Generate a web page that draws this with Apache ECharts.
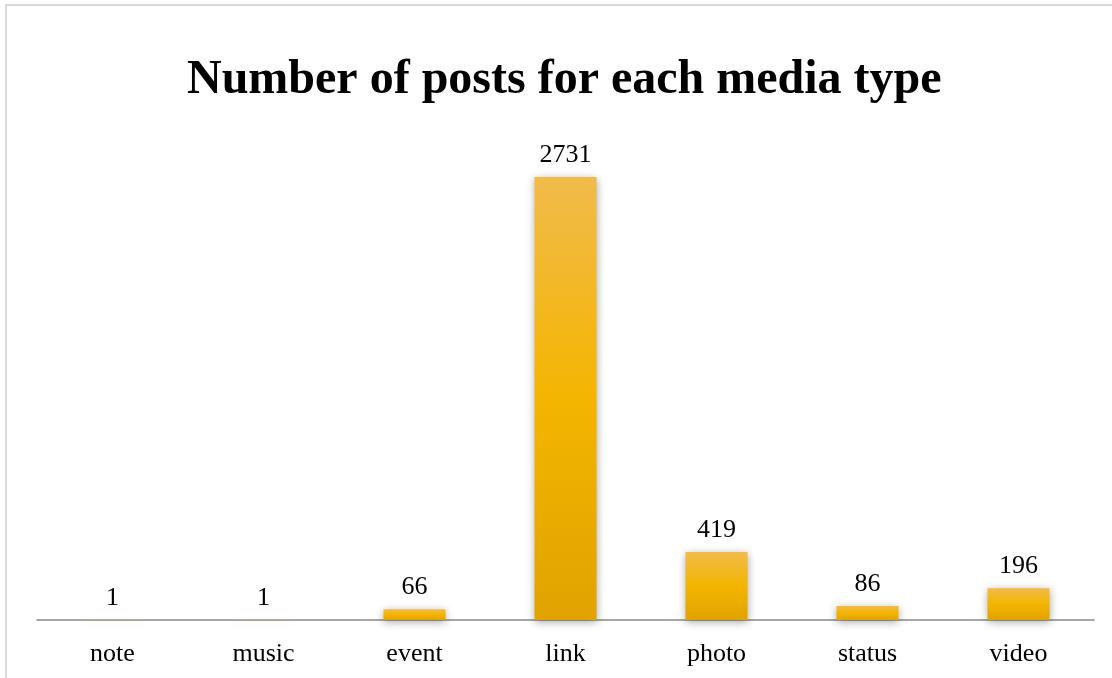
<!DOCTYPE html>
<html>
<head>
<meta charset="utf-8">
<script src="https://cdn.jsdelivr.net/npm/echarts@6/dist/echarts.min.js"></script>
<style>
  html, body { margin: 0; padding: 0; background: #fff; }
  #frame {
    position: absolute; left: 5px; top: 4px; width: 1120px; height: 690px;
    border-left: 2px solid #d9d9d9; border-top: 2px solid #d9d9d9;
  }
  #chart { position: absolute; left: 0; top: 0; width: 1112px; height: 678px; }
</style>
</head>
<body>
<div id="frame"></div>
<div id="chart"></div>
<script>
// media types and post counts
var mediaTypes = ['note', 'music', 'event', 'link', 'photo', 'status', 'video'];
var postCounts = [1, 1, 66, 2731, 419, 86, 196];

var myChart = echarts.init(document.getElementById('chart'));

var barColor = new echarts.graphic.LinearGradient(0, 0, 0, 1, [
  { offset: 0, color: '#f1bb4c' },
  { offset: 0.5, color: '#f4b500' },
  { offset: 1, color: '#e0a300' }
]);

var option = {
  animation: false,
  title: {
    text: 'Number of posts for each media type',
    left: 182,
    top: 52,
    textStyle: {
      fontFamily: 'Liberation Serif',
      fontWeight: 'bold',
      fontSize: 48,
      color: '#000'
    }
  },
  grid: {
    left: 37,
    right: 18,
    top: 133.4,
    bottom: 58
  },
  xAxis: {
    type: 'category',
    data: mediaTypes,
    axisLine: { lineStyle: { color: '#898989', width: 1.5 } },
    axisTick: { show: false },
    axisLabel: {
      fontFamily: 'Liberation Serif',
      fontSize: 26,
      color: '#000',
      margin: 21
    }
  },
  yAxis: {
    type: 'value',
    min: 0,
    max: 3000,
    show: false,
    splitLine: { show: false }
  },
  series: [
    {
      type: 'bar',
      data: postCounts,
      barWidth: 62,
      itemStyle: {
        color: barColor,
        shadowBlur: 8,
        shadowColor: 'rgba(0,0,0,0.35)',
        shadowOffsetY: 2
      },
      label: {
        show: true,
        position: 'top',
        distance: 9,
        fontFamily: 'Liberation Serif',
        fontSize: 26,
        color: '#000'
      }
    }
  ]
};

option && myChart.setOption(option);
</script>
</body>
</html>
